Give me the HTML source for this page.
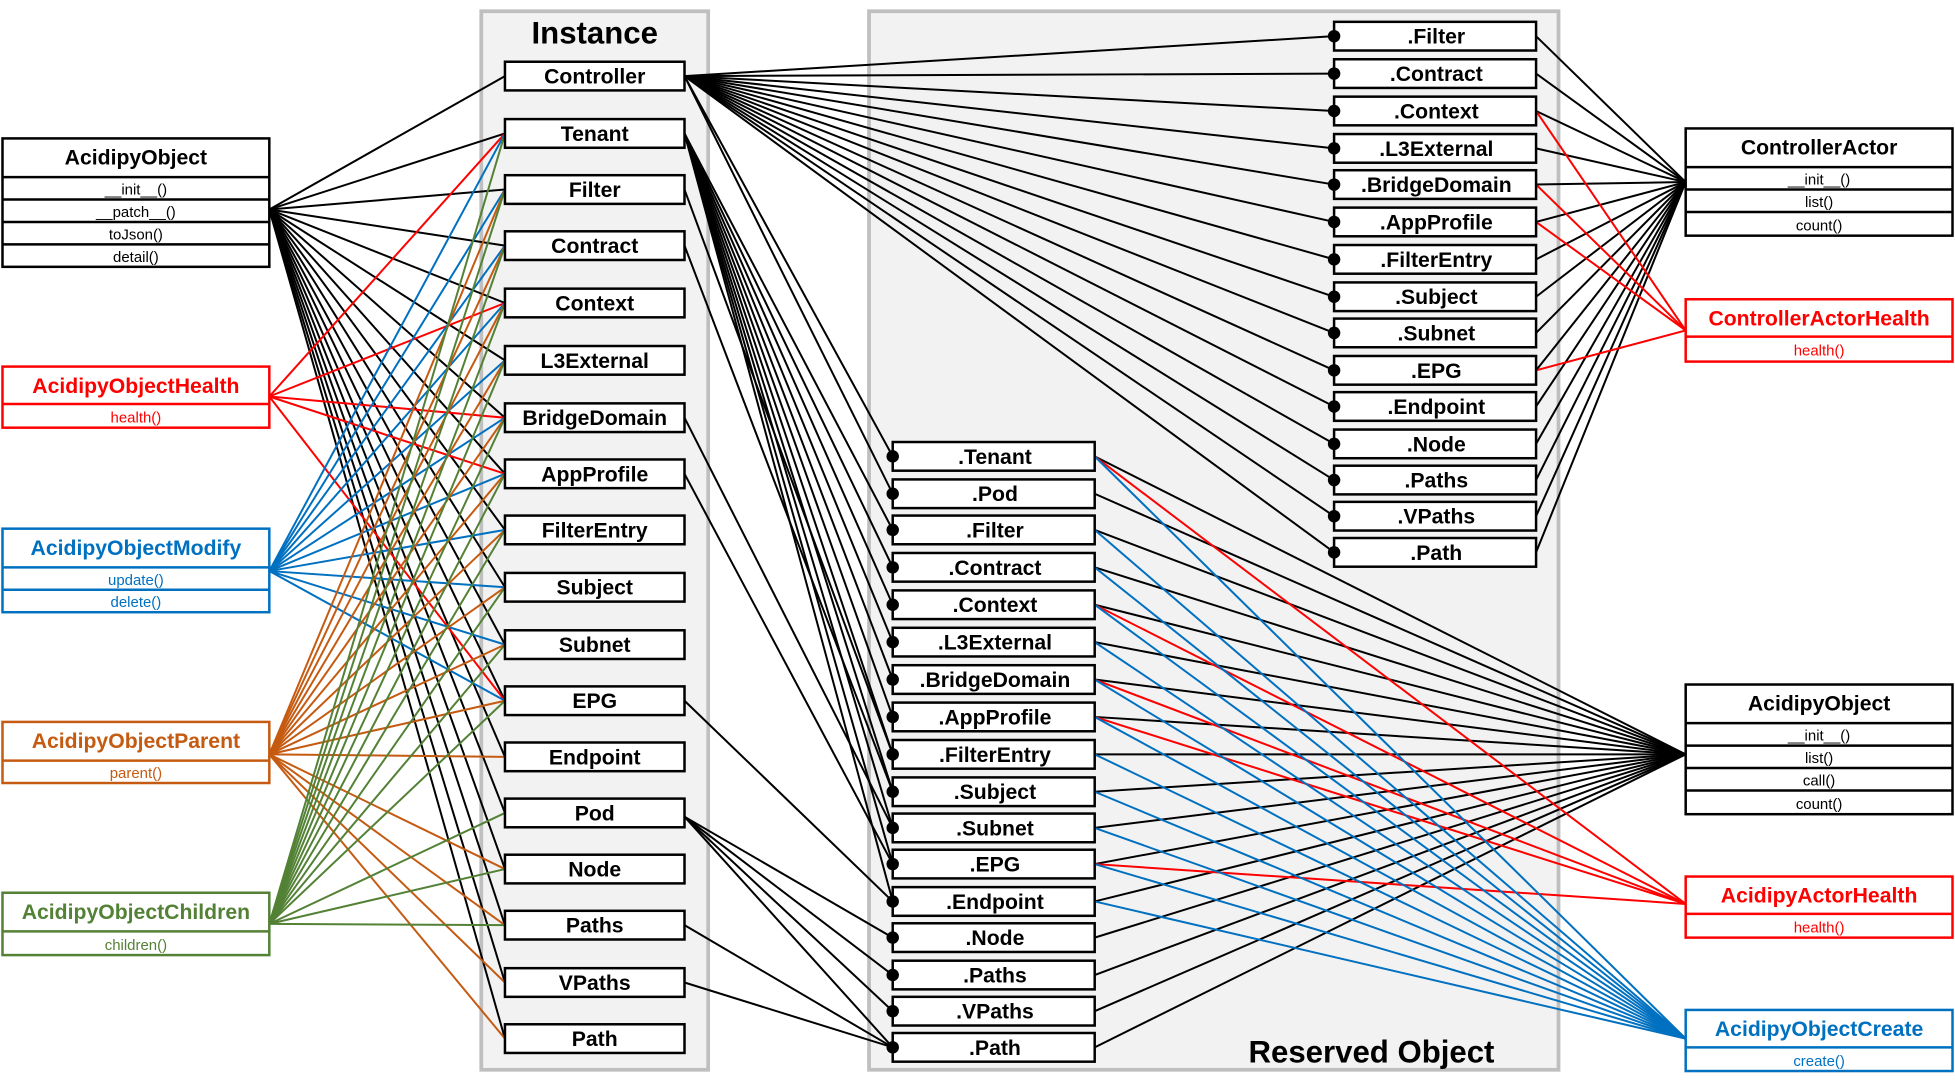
<!DOCTYPE html>
<html><head><meta charset="utf-8">
<style>
html,body{margin:0;padding:0;background:#fff;}
svg{display:block;}
text{font-family:"Liberation Sans",sans-serif;}
.b{font-weight:bold;font-size:17px;}
.m{font-size:12px;}
</style></head>
<body>
<svg id="s" width="1955" height="1091" viewBox="0 0 1568 875" xmlns="http://www.w3.org/2000/svg">
<rect x="386" y="9" width="182" height="849" fill="#f2f2f2" stroke="#bfbfbf" stroke-width="3"/>
<rect x="697" y="9" width="553" height="849" fill="#f2f2f2" stroke="#bfbfbf" stroke-width="3"/>
<text x="477" y="35" text-anchor="middle" font-weight="bold" font-size="25">Instance</text>
<text x="1100" y="852" text-anchor="middle" font-weight="bold" font-size="25">Reserved Object</text>
<g id="lines" stroke-width="1.6" fill="none"></g>
<g id="boxes"></g>
</svg>
<script>
var NS="http://www.w3.org/2000/svg";
var L=document.getElementById('lines');
function ln(x1,y1,x2,y2,c){var e=document.createElementNS(NS,'line');e.setAttribute('x1',x1);e.setAttribute('y1',y1);e.setAttribute('x2',x2);e.setAttribute('y2',y2);e.setAttribute('stroke',c);L.appendChild(e);}
var inst=[61,107,152,197,243,289,335,380,425,471,517,562,607,652,697,742,788,833];
var resL=[366,396,425,455,485,515,545,575,605,635,664,693,723,752,782,811,840];
var resR=[29,59,89,119,148,178,208,238,267,297,326,356,385,414,443];
var BK="#000",RD="#ff0000",BL="#0070c0",OR="#c55a11",GR="#538135";
// left classes -> instance
inst.forEach(function(y){ln(216,168,405,y,BK);});
[1,4,6,7,11].forEach(function(i){ln(216,318,405,inst[i],RD);});
for(var i=1;i<=11;i++)ln(216,458,405,inst[i],BL);
for(var i=2;i<=17;i++){if(i!=13)ln(216,605,405,inst[i],OR);}
for(var i=1;i<=15;i++){if(i!=12)ln(216,741,405,inst[i],GR);}
// instance -> reserved
resR.forEach(function(y){ln(549,61,1070,y,BK);});
ln(549,61,716,resL[0],BK);ln(549,61,716,resL[1],BK);
for(var i=2;i<=12;i++)ln(549,107,716,resL[i],BK);
ln(549,152,716,resL[8],BK);ln(549,197,716,resL[9],BK);
ln(549,335,716,resL[10],BK);ln(549,380,716,resL[11],BK);
ln(549,562,716,resL[12],BK);
[13,14,15,16].forEach(function(i){ln(549,655,716,resL[i],BK);});
ln(549,742,716,resL[16],BK);ln(549,788,716,resL[16],BK);
// reserved -> right classes
resR.forEach(function(y){ln(1232,y,1352,146,BK);});
[2,4,5,9].forEach(function(i){ln(1232,resR[i],1352,265,RD);});
resL.forEach(function(y){ln(878,y,1352,605,BK);});
[0,4,6,7,11].forEach(function(i){ln(878,resL[i],1352,725,RD);});
for(var i=0;i<=12;i++){if(i!=1)ln(878,resL[i],1352,833,BL);}
</script>
<svg width="0" height="0" style="position:absolute"></svg>
<script>
var B=document.getElementById('boxes');
function add(html){B.insertAdjacentHTML('beforeend',html);}
</script>
<script>
// static boxes via SVG markup string
</script>
<svg width="1955" height="1091" viewBox="0 0 1568 875" style="position:absolute;left:0;top:0" xmlns="http://www.w3.org/2000/svg">
<g fill="#fff" stroke="#000" stroke-width="2">
<!-- instance boxes -->
<rect x="405" y="49.5" width="144" height="23"/><rect x="405" y="95.5" width="144" height="23"/><rect x="405" y="140.5" width="144" height="23"/><rect x="405" y="185.5" width="144" height="23"/><rect x="405" y="231.5" width="144" height="23"/><rect x="405" y="277.5" width="144" height="23"/><rect x="405" y="323.5" width="144" height="23"/><rect x="405" y="368.5" width="144" height="23"/><rect x="405" y="413.5" width="144" height="23"/><rect x="405" y="459.5" width="144" height="23"/><rect x="405" y="505.5" width="144" height="23"/><rect x="405" y="550.5" width="144" height="23"/><rect x="405" y="595.5" width="144" height="23"/><rect x="405" y="640.5" width="144" height="23"/><rect x="405" y="685.5" width="144" height="23"/><rect x="405" y="730.5" width="144" height="23"/><rect x="405" y="776.5" width="144" height="23"/><rect x="405" y="821.5" width="144" height="23"/>
<!-- reserved left -->
<rect x="716" y="354.5" width="162" height="23"/><rect x="716" y="384.5" width="162" height="23"/><rect x="716" y="413.5" width="162" height="23"/><rect x="716" y="443.5" width="162" height="23"/><rect x="716" y="473.5" width="162" height="23"/><rect x="716" y="503.5" width="162" height="23"/><rect x="716" y="533.5" width="162" height="23"/><rect x="716" y="563.5" width="162" height="23"/><rect x="716" y="593.5" width="162" height="23"/><rect x="716" y="623.5" width="162" height="23"/><rect x="716" y="652.5" width="162" height="23"/><rect x="716" y="681.5" width="162" height="23"/><rect x="716" y="711.5" width="162" height="23"/><rect x="716" y="740.5" width="162" height="23"/><rect x="716" y="770.5" width="162" height="23"/><rect x="716" y="799.5" width="162" height="23"/><rect x="716" y="828.5" width="162" height="23"/>
<!-- reserved right -->
<rect x="1070" y="17.5" width="162" height="23"/><rect x="1070" y="47.5" width="162" height="23"/><rect x="1070" y="77.5" width="162" height="23"/><rect x="1070" y="107.5" width="162" height="23"/><rect x="1070" y="136.5" width="162" height="23"/><rect x="1070" y="166.5" width="162" height="23"/><rect x="1070" y="196.5" width="162" height="23"/><rect x="1070" y="226.5" width="162" height="23"/><rect x="1070" y="255.5" width="162" height="23"/><rect x="1070" y="285.5" width="162" height="23"/><rect x="1070" y="314.5" width="162" height="23"/><rect x="1070" y="344.5" width="162" height="23"/><rect x="1070" y="373.5" width="162" height="23"/><rect x="1070" y="402.5" width="162" height="23"/><rect x="1070" y="431.5" width="162" height="23"/>
</g>
<g fill="#000">
<circle cx="716" cy="366" r="5"/><circle cx="716" cy="396" r="5"/><circle cx="716" cy="425" r="5"/><circle cx="716" cy="455" r="5"/><circle cx="716" cy="485" r="5"/><circle cx="716" cy="515" r="5"/><circle cx="716" cy="545" r="5"/><circle cx="716" cy="575" r="5"/><circle cx="716" cy="605" r="5"/><circle cx="716" cy="635" r="5"/><circle cx="716" cy="664" r="5"/><circle cx="716" cy="693" r="5"/><circle cx="716" cy="723" r="5"/><circle cx="716" cy="752" r="5"/><circle cx="716" cy="782" r="5"/><circle cx="716" cy="811" r="5"/><circle cx="716" cy="840" r="5"/>
<circle cx="1070" cy="29" r="5"/><circle cx="1070" cy="59" r="5"/><circle cx="1070" cy="89" r="5"/><circle cx="1070" cy="119" r="5"/><circle cx="1070" cy="148" r="5"/><circle cx="1070" cy="178" r="5"/><circle cx="1070" cy="208" r="5"/><circle cx="1070" cy="238" r="5"/><circle cx="1070" cy="267" r="5"/><circle cx="1070" cy="297" r="5"/><circle cx="1070" cy="326" r="5"/><circle cx="1070" cy="356" r="5"/><circle cx="1070" cy="385" r="5"/><circle cx="1070" cy="414" r="5"/><circle cx="1070" cy="443" r="5"/>
</g>
<g class="b" text-anchor="middle" font-weight="bold" font-size="17" font-family="Liberation Sans, sans-serif">
<text x="477" y="67">Controller</text><text x="477" y="113">Tenant</text><text x="477" y="158">Filter</text><text x="477" y="203">Contract</text><text x="477" y="249">Context</text><text x="477" y="295">L3External</text><text x="477" y="341">BridgeDomain</text><text x="477" y="386">AppProfile</text><text x="477" y="431">FilterEntry</text><text x="477" y="477">Subject</text><text x="477" y="523">Subnet</text><text x="477" y="568">EPG</text><text x="477" y="613">Endpoint</text><text x="477" y="658">Pod</text><text x="477" y="703">Node</text><text x="477" y="748">Paths</text><text x="477" y="794">VPaths</text><text x="477" y="839">Path</text>
<text x="798" y="372">.Tenant</text><text x="798" y="402">.Pod</text><text x="798" y="431">.Filter</text><text x="798" y="461">.Contract</text><text x="798" y="491">.Context</text><text x="798" y="521">.L3External</text><text x="798" y="551">.BridgeDomain</text><text x="798" y="581">.AppProfile</text><text x="798" y="611">.FilterEntry</text><text x="798" y="641">.Subject</text><text x="798" y="670">.Subnet</text><text x="798" y="699">.EPG</text><text x="798" y="729">.Endpoint</text><text x="798" y="758">.Node</text><text x="798" y="788">.Paths</text><text x="798" y="817">.VPaths</text><text x="798" y="846">.Path</text>
<text x="1152" y="35">.Filter</text><text x="1152" y="65">.Contract</text><text x="1152" y="95">.Context</text><text x="1152" y="125">.L3External</text><text x="1152" y="154">.BridgeDomain</text><text x="1152" y="184">.AppProfile</text><text x="1152" y="214">.FilterEntry</text><text x="1152" y="244">.Subject</text><text x="1152" y="273">.Subnet</text><text x="1152" y="303">.EPG</text><text x="1152" y="332">.Endpoint</text><text x="1152" y="362">.Node</text><text x="1152" y="391">.Paths</text><text x="1152" y="420">.VPaths</text><text x="1152" y="449">.Path</text>
</g>
<!-- class boxes -->
<g fill="#fff" stroke-width="2" font-family="Liberation Sans, sans-serif" text-anchor="middle">
<g stroke="#000"><rect x="2" y="111" width="214" height="103"/><line x1="2" y1="142" x2="216" y2="142"/><line x1="2" y1="160" x2="216" y2="160"/><line x1="2" y1="178" x2="216" y2="178"/><line x1="2" y1="196" x2="216" y2="196"/></g>
<g stroke="#ff0000"><rect x="2" y="294" width="214" height="49"/><line x1="2" y1="324" x2="216" y2="324"/></g>
<g stroke="#0070c0"><rect x="2" y="424" width="214" height="67"/><line x1="2" y1="455" x2="216" y2="455"/><line x1="2" y1="473" x2="216" y2="473"/></g>
<g stroke="#c55a11"><rect x="2" y="579" width="214" height="49"/><line x1="2" y1="610" x2="216" y2="610"/></g>
<g stroke="#538135"><rect x="2" y="716" width="214" height="50"/><line x1="2" y1="747" x2="216" y2="747"/></g>
<g stroke="#000"><rect x="1352" y="103" width="214" height="86"/><line x1="1352" y1="134" x2="1566" y2="134"/><line x1="1352" y1="152" x2="1566" y2="152"/><line x1="1352" y1="170" x2="1566" y2="170"/></g>
<g stroke="#ff0000"><rect x="1352" y="240" width="214" height="50"/><line x1="1352" y1="270" x2="1566" y2="270"/></g>
<g stroke="#000"><rect x="1352" y="549" width="214" height="104"/><line x1="1352" y1="580" x2="1566" y2="580"/><line x1="1352" y1="598" x2="1566" y2="598"/><line x1="1352" y1="616" x2="1566" y2="616"/><line x1="1352" y1="634" x2="1566" y2="634"/></g>
<g stroke="#ff0000"><rect x="1352" y="703" width="214" height="49"/><line x1="1352" y1="733" x2="1566" y2="733"/></g>
<g stroke="#0070c0"><rect x="1352" y="810" width="214" height="49"/><line x1="1352" y1="840" x2="1566" y2="840"/></g>
<g font-weight="bold" font-size="17" stroke="none">
<text x="109" y="132" fill="#000">AcidipyObject</text>
<text x="109" y="315" fill="#ff0000">AcidipyObjectHealth</text>
<text x="109" y="445" fill="#0070c0">AcidipyObjectModify</text>
<text x="109" y="600" fill="#c55a11">AcidipyObjectParent</text>
<text x="109" y="737" fill="#538135">AcidipyObjectChildren</text>
<text x="1459" y="124" fill="#000">ControllerActor</text>
<text x="1459" y="261" fill="#ff0000">ControllerActorHealth</text>
<text x="1459" y="570" fill="#000">AcidipyObject</text>
<text x="1459" y="724" fill="#ff0000">AcidipyActorHealth</text>
<text x="1459" y="831" fill="#0070c0">AcidipyObjectCreate</text>
</g>
<g font-size="12" stroke="none">
<text x="109" y="156" fill="#000">__init__()</text><text x="109" y="174" fill="#000">__patch__()</text><text x="109" y="192" fill="#000">toJson()</text><text x="109" y="210" fill="#000">detail()</text>
<text x="109" y="339" fill="#ff0000">health()</text>
<text x="109" y="469" fill="#0070c0">update()</text><text x="109" y="487" fill="#0070c0">delete()</text>
<text x="109" y="624" fill="#c55a11">parent()</text>
<text x="109" y="762" fill="#538135">children()</text>
<text x="1459" y="148" fill="#000">__init__()</text><text x="1459" y="166" fill="#000">list()</text><text x="1459" y="185" fill="#000">count()</text>
<text x="1459" y="285" fill="#ff0000">health()</text>
<text x="1459" y="594" fill="#000">__init__()</text><text x="1459" y="612" fill="#000">list()</text><text x="1459" y="630" fill="#000">call()</text><text x="1459" y="649" fill="#000">count()</text>
<text x="1459" y="748" fill="#ff0000">health()</text>
<text x="1459" y="855" fill="#0070c0">create()</text>
</g>
</g>
</svg>
</body></html>
